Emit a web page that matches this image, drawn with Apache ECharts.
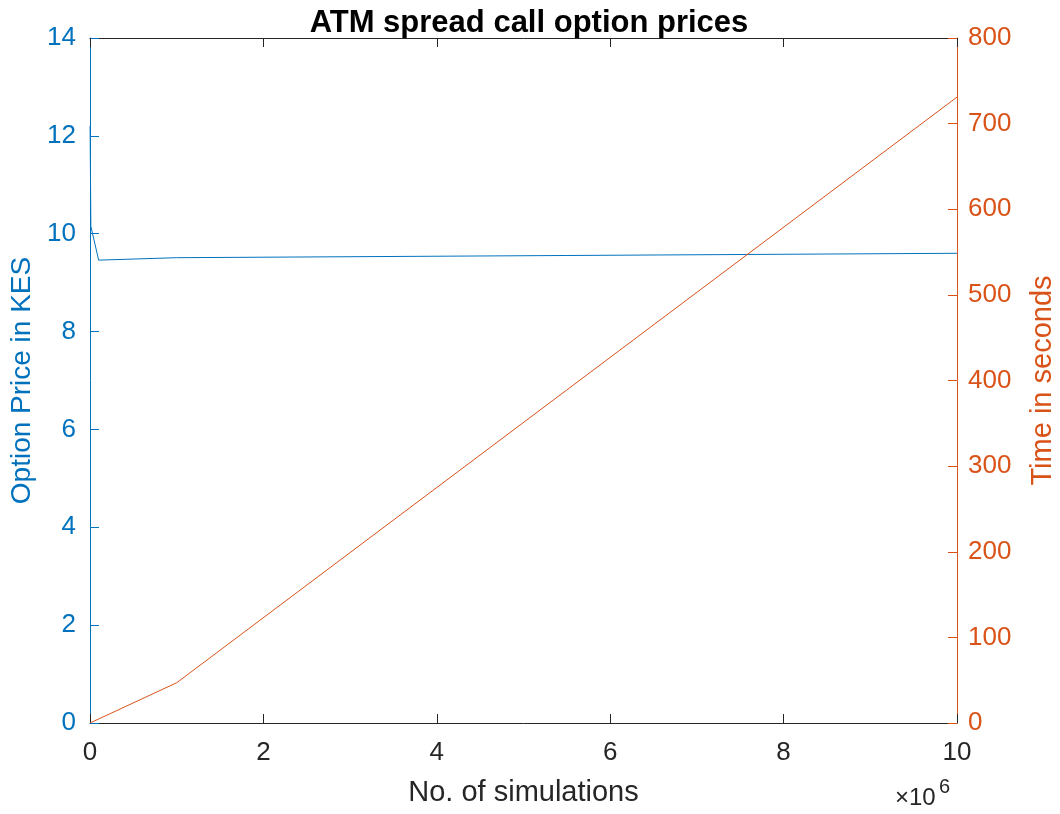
<!DOCTYPE html>
<html><head><meta charset="utf-8">
<script src="https://cdn.jsdelivr.net/npm/echarts@6/dist/echarts.min.js"></script>
<style>html,body{margin:0;padding:0;background:#fff}#c{width:1060px;height:814px}</style>
</head><body><div id="c"></div>
<script>
var simulations = [1000, 10000, 100000, 1000000, 10000000];
var optionPrice = [12.2, 10.15, 9.46, 9.51, 9.6];
var simulationsTime = [0, 10000, 100000, 1000000, 10000000];
var timeValues = [0, 0.5, 4.7, 47, 731];
var xTickDivisor = 1e6;

var blue = '#0072BD', orange = '#D95319', dark = '#262626';
var font = '"Liberation Sans", Arial, sans-serif';
var chart = echarts.init(document.getElementById('c'));
chart.setOption({
  animation: false,
  grid: {left: 90, right: 103, top: 38, bottom: 91, containLabel: false, outerBoundsMode: 'none'},
  xAxis: [{
    type: 'value', min: 0, max: 10000000, interval: 2000000, position: 'bottom',
    axisLine: {onZero: false, lineStyle: {color: dark, width: 1}},
    axisTick: {inside: true, length: 9, lineStyle: {color: dark}},
    axisLabel: {color: dark, fontSize: 26, fontFamily: font, margin: 17, formatter: function(v){return v/xTickDivisor;}},
    splitLine: {show: false},
    name: 'No. of simulations', nameLocation: 'middle', nameGap: 55,
    nameTextStyle: {color: dark, fontSize: 29, fontFamily: font}
  }, {
    type: 'value', min: 0, max: 10000000, interval: 2000000, position: 'top',
    axisLine: {onZero: false, lineStyle: {color: dark, width: 1}},
    axisTick: {inside: true, length: 9, lineStyle: {color: dark}},
    axisLabel: {show: false}, splitLine: {show: false}
  }],
  yAxis: [{
    type: 'value', min: 0, max: 14, interval: 2, position: 'left',
    axisLine: {show: true, onZero: false, lineStyle: {color: blue, width: 1}},
    axisTick: {show: true, inside: true, length: 9, lineStyle: {color: blue}},
    axisLabel: {color: blue, fontSize: 26, fontFamily: font, margin: 14},
    splitLine: {show: false},
    name: 'Option Price in KES', nameLocation: 'middle', nameGap: 52,
    nameTextStyle: {color: blue, fontSize: 28, fontFamily: font}
  }, {
    type: 'value', min: 0, max: 800, interval: 100, position: 'right',
    axisLine: {show: true, onZero: false, lineStyle: {color: orange, width: 1}},
    axisTick: {show: true, inside: true, length: 9, lineStyle: {color: orange}},
    axisLabel: {color: orange, fontSize: 26, fontFamily: font, margin: 11},
    splitLine: {show: false},
    name: 'Time in seconds', nameLocation: 'middle', nameGap: 71,
    nameTextStyle: {color: orange, fontSize: 29, fontFamily: font}
  }],
  series: [{
    type: 'line', xAxisIndex: 0, yAxisIndex: 0, showSymbol: false, symbol: 'none',
    lineStyle: {color: blue, width: 1},
    data: simulations.map(function(x, i){return [x, optionPrice[i]];})
  }, {
    type: 'line', xAxisIndex: 0, yAxisIndex: 1, showSymbol: false, symbol: 'none',
    lineStyle: {color: orange, width: 1},
    data: simulationsTime.map(function(x, i){return [x, timeValues[i]];})
  }],
  graphic: [{
    type: 'text', x: 529, y: 23,
    style: {text: 'ATM spread call option prices', fill: '#000', font: 'bold 31px ' + font, align: 'center', verticalAlign: 'middle'}
  }, {
    type: 'text', x: 895, y: 798,
    style: {text: '×10', fill: dark, font: '24px ' + font, align: 'left', verticalAlign: 'middle'}
  }, {
    type: 'text', x: 939, y: 787,
    style: {text: '6', fill: dark, font: '20px ' + font, align: 'left', verticalAlign: 'middle'}
  }]
});
</script></body></html>
